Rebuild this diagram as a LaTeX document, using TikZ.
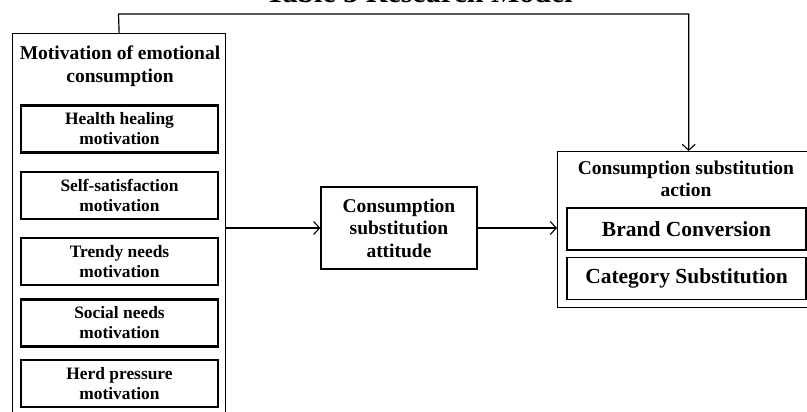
\documentclass[tikz,border=0pt]{standalone}
\usepackage{fontspec}
\setmainfont{Liberation Serif}
\usetikzlibrary{arrows.meta}
\tikzset{
  outerbox/.style={draw, line width=1.3pt, minimum width=#1, inner sep=0pt},
  thickbox/.style={draw, line width=2.6pt, minimum width=197pt, minimum height=47pt, inner sep=0pt, align=center,
    font=\fontsize{17.4}{20}\selectfont\bfseries},
  actbox/.style={draw, line width=1.3pt, minimum width=239pt, minimum height=42pt, inner sep=0pt, align=center,
    font=\fontsize{21.5}{24}\selectfont\bfseries},
  headtext/.style={align=center, inner sep=0pt, font=\fontsize{19.5}{22.5}\selectfont\bfseries},
  conn/.style={line width=1.2pt, -{Straight Barb[length=6pt,width=13pt,line width=1.1pt]}},
}
\begin{document}
\begin{tikzpicture}[x=1pt,y=-1pt]
\useasboundingbox (0,0) rectangle (807,412);
\clip (0,0) rectangle (807,412);
% title (cut at top)
\node[anchor=base, inner sep=0pt, font=\fontsize{30}{30}\selectfont\bfseries] (title) at (419,3) {Table 3 Research Model};
% left outer box
\node[outerbox=213pt, minimum height=390pt, anchor=north west] (mot) at (12,33) {};
\node[headtext] (motT) at (120,66) {Motivation of emotional\\consumption};
\node[thickbox] (h1) at (119.5,129) {Health healing\\motivation};
\node[thickbox] (h2) at (119.5,195.5) {Self-satisfaction\\motivation};
\node[thickbox] (h3) at (119.5,261.5) {Trendy needs\\motivation};
\node[thickbox] (h4) at (119.5,323) {Social needs\\motivation};
\node[thickbox] (h5) at (119.5,383.5) {Herd pressure\\motivation};
% middle box
\node[draw, line width=1.3pt, minimum width=156pt, minimum height=82pt, inner sep=0pt, headtext] (att) at (399,228) {Consumption\\substitution\\attitude};
% right box
\node[outerbox=262pt, minimum height=156pt, anchor=north west] (act) at (557,151) {};
\node[headtext] (actT) at (686,179) {Consumption substitution\\action};
\node[actbox] (a1) at (686.5,229) {Brand Conversion};
\node[actbox] (a2) at (686.5,278.5) {Category Substitution};
% connectors
\draw[conn] (mot.east |- att.west) -- (att.west);
\draw[conn] (att.east) -- (att.east -| act.west);
\coordinate (topL) at (118.5,14);
\draw[conn] (mot.north) -- (topL) -| (act.north);
\end{tikzpicture}
\end{document}
